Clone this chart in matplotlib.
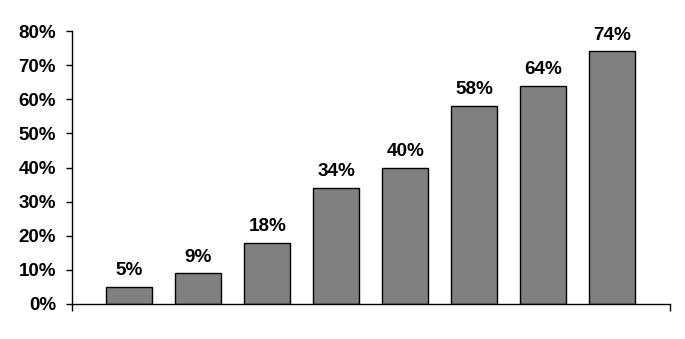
import numpy as np
import matplotlib.pyplot as plt
from matplotlib.ticker import PercentFormatter

# valores em percentagem
categorias = ["A", "B", "C", "D", "E", "F", "G", "H"]
valores = [5, 9, 18, 34, 40, 58, 64, 74]
rotulos = ["5%", "9%", "18%", "34%", "40%", "58%", "64%", "74%"]
y_ticks = [0, 10, 20, 30, 40, 50, 60, 70, 80]

plt.rcParams['font.family'] = ['Liberation Sans', 'DejaVu Sans']

fig = plt.figure(figsize=(6.85, 3.39), dpi=100)
ax = fig.add_axes([72/685, 35/339, 598/685, 273/339])

x = np.arange(len(categorias))
barras = ax.bar(x, valores, width=0.667, color='#808080', edgecolor='black', linewidth=1.0)

# rotulos por cima das barras
for b, txt in zip(barras, rotulos):
    ax.annotate(txt, (b.get_x() + b.get_width() / 2, b.get_height()),
                xytext=(0, 5.5), textcoords='offset points',
                ha='center', va='bottom', fontsize=13.6, fontweight='bold')

ax.set_xlim(-0.83, len(categorias) - 1 + 0.836)
ax.set_ylim(0, 80)
ax.set_yticks(y_ticks)
ax.yaxis.set_major_formatter(PercentFormatter(decimals=0))
ax.tick_params(axis='y', direction='out', length=4.5, width=1, pad=7, labelsize=13.5)
for lbl in ax.get_yticklabels():
    lbl.set_fontweight('bold')

# so os tracos nas pontas do eixo x
ax.set_xticks(ax.get_xlim())
ax.set_xticklabels([])
ax.tick_params(axis='x', direction='out', length=5, width=1)

ax.spines['top'].set_visible(False)
ax.spines['right'].set_visible(False)
ax.spines['left'].set_linewidth(1)
ax.spines['bottom'].set_linewidth(1)

plt.savefig("out.png", dpi=100)
